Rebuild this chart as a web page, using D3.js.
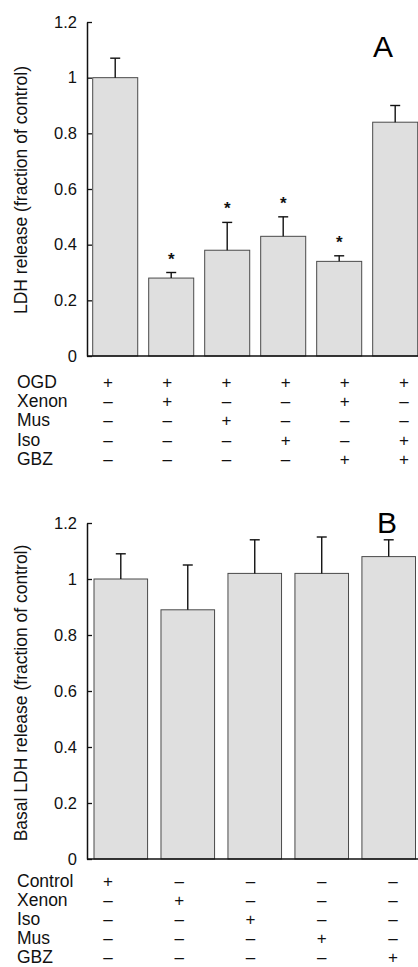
<!DOCTYPE html>
<html><head><meta charset="utf-8">
<script src="https://cdn.jsdelivr.net/npm/d3@7"></script>
<style>
html,body{margin:0;padding:0;background:#fff;}
svg{display:block;font-family:"Liberation Sans",Arial,Helvetica,sans-serif;}
</style></head>
<body><svg id="c" width="418" height="967"></svg>
<script>
// Panel A data
const aValues = [1.0, 0.28, 0.38, 0.43, 0.34, 0.84];
const aErrors = [0.07, 0.02, 0.10, 0.07, 0.02, 0.06];
const aSig = [false, true, true, true, true, false];
const aRows = ["OGD", "Xenon", "Mus", "Iso", "GBZ"];
const aSigns = [
  ["+","+","+","+","+","+"],
  ["–","+","–","–","+","–"],
  ["–","–","+","–","–","–"],
  ["–","–","–","+","–","+"],
  ["–","–","–","–","+","+"]
];
const aYLabel = "LDH release (fraction of control)";
// Panel B data
const bValues = [1.0, 0.89, 1.02, 1.02, 1.08];
const bErrors = [0.09, 0.16, 0.12, 0.13, 0.06];
const bRows = ["Control", "Xenon", "Iso", "Mus", "GBZ"];
const bSigns = [
  ["+","–","–","–","–"],
  ["–","+","–","–","–"],
  ["–","–","+","–","–"],
  ["–","–","–","+","–"],
  ["–","–","–","–","+"]
];
const bYLabel = "Basal LDH release (fraction of control)";
const yTicks = [0, 0.2, 0.4, 0.6, 0.8, 1, 1.2];

const svg = d3.select("#c");

function panel(cfg) {
  const g = svg.append("g");
  const y = d3.scaleLinear().domain([0, 1.2]).range([cfg.y0, cfg.y1]);
  const x = d3.scaleBand().domain(d3.range(cfg.values.length))
    .range(cfg.xr).paddingInner(cfg.pad).paddingOuter(0);
  const xs = d3.scalePoint().domain(d3.range(cfg.values.length)).range(cfg.sr);

  // bars
  g.selectAll("rect.bar").data(cfg.values).join("rect")
    .attr("x", (d,i) => x(i)).attr("width", x.bandwidth())
    .attr("y", d => y(d)).attr("height", d => y(0) - y(d))
    .attr("fill", "#dfdfdf").attr("stroke", "#4a4a4a").attr("stroke-width", 1);

  // error bars
  const eg = g.append("g").attr("stroke", "#111").attr("stroke-width", 1.4);
  cfg.values.forEach((v, i) => {
    const cx = x(i) + x.bandwidth() / 2;
    const top = y(v + cfg.errors[i]);
    eg.append("line").attr("x1", cx).attr("x2", cx).attr("y1", y(v)).attr("y2", top);
    eg.append("line").attr("x1", cx - 5).attr("x2", cx + 5).attr("y1", top).attr("y2", top);
    if (cfg.sig && cfg.sig[i]) {
      g.append("text").attr("x", cx).attr("y", top - 8).attr("text-anchor", "middle")
        .attr("font-size", 17).attr("font-weight", "bold").attr("fill", "#111").text("*");
    }
  });

  // y axis
  const ax = g.append("g").attr("transform", `translate(${cfg.ax},0)`)
    .call(d3.axisLeft(y).tickValues(yTicks).tickSize(-5).tickSizeOuter(0).tickPadding(10)
      .tickFormat(d => String(+d.toFixed(1))));
  ax.select(".domain").attr("stroke", "#111").attr("stroke-width", 1.5);
  ax.selectAll(".tick line").attr("stroke", "#111").attr("stroke-width", 1.3);
  ax.selectAll(".tick text").attr("font-size", 16.5).attr("fill", "#111")
    .attr("font-family", "Liberation Sans, Arial, sans-serif");

  // x baseline
  g.append("line").attr("x1", cfg.ax).attr("x2", 418).attr("y1", y(0)).attr("y2", y(0))
    .attr("stroke", "#111").attr("stroke-width", 1.5);

  // y label
  g.append("text").attr("transform", `translate(21,${cfg.labelY}) rotate(-90)`)
    .attr("text-anchor", "middle").attr("dy", "0.35em").attr("font-size", 17.5).attr("fill", "#111")
    .text(cfg.ylabel);

  // panel letter
  g.append("text").attr("x", cfg.letterX).attr("y", cfg.letterY).attr("text-anchor", "middle")
    .attr("font-size", 30).attr("fill", "#000").text(cfg.letter);

  // condition table
  cfg.rows.forEach((r, ri) => {
    const ry = cfg.rowY0 + ri * cfg.rowStep;
    g.append("text").attr("x", 17).attr("y", ry).attr("dy", "0.35em")
      .attr("font-size", 17.5).attr("fill", "#111").text(r);
    cfg.signs[ri].forEach((s, ci) => {
      g.append("text").attr("x", xs(ci)).attr("y", ry).attr("dy", "0.35em")
        .attr("text-anchor", "middle").attr("font-size", 17).attr("fill", "#111").text(s);
    });
  });
}

panel({values: aValues, errors: aErrors, sig: aSig, rows: aRows, signs: aSigns,
  ylabel: aYLabel, letter: "A", y0: 356, y1: 22, xr: [92.7, 417.7], pad: 0.196,
  sr: [108, 404], ax: 87, labelY: 190, letterX: 383, letterY: 57,
  rowY0: 381.7, rowStep: 19.3});

panel({values: bValues, errors: bErrors, sig: null, rows: bRows, signs: bSigns,
  ylabel: bYLabel, letter: "B", y0: 859, y1: 523, xr: [94, 415.5], pad: 0.2,
  sr: [108, 393], ax: 87, labelY: 693, letterX: 387, letterY: 533,
  rowY0: 881, rowStep: 19});
</script></body></html>
